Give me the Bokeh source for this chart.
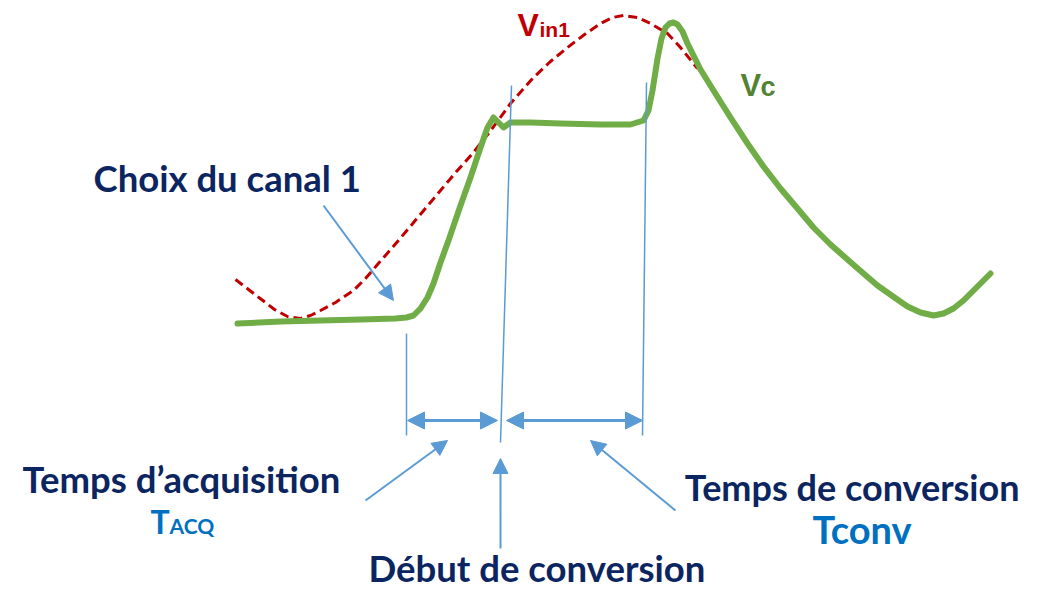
from bokeh.plotting import figure
from bokeh.models import Range1d, Arrow, NormalHead, ColumnDataSource
from bokeh.core.properties import value
from bokeh.embed import file_html
from bokeh.resources import INLINE

# --- data (diagram coordinates, y grows downward) ---
vin1_x = [235, 248, 261, 274, 287, 300, 310, 320, 335, 353, 365, 377, 392, 408, 424, 440, 456, 472, 488, 510, 533, 550, 567, 584, 600, 612, 623, 637, 650, 667, 680, 693, 697]
vin1_y = [279, 289, 299, 309, 316, 318, 315, 310, 302, 290, 278, 264, 247, 228, 209, 190, 171, 153, 133, 103, 77, 61, 47, 34, 23, 17, 15, 17, 23, 33, 47, 63, 68]

vc_x = [237, 280, 320, 360, 395, 406, 413, 420, 427, 433, 440, 448, 460, 470, 480, 487, 493, 498, 503, 510, 530, 560, 600, 630, 643, 648, 652, 657, 661, 665, 669, 673, 677, 682, 687, 700, 713, 730, 747, 763, 780, 797, 813, 830, 847, 863, 877, 894, 907, 920, 933, 943, 953, 963, 973, 982, 990]
vc_y = [323, 321, 320, 319, 318, 317, 315, 308, 297, 283, 262, 240, 205, 177, 147, 127, 117, 122, 127, 122, 122, 123, 124, 124, 120, 110, 90, 58, 38, 27, 23, 22, 24, 31, 43, 69, 90, 117, 143, 166, 188, 208, 227, 244, 259, 273, 285, 297, 306, 312, 315, 313, 308, 300, 290, 281, 273]

vlines_x0 = [406, 511, 646]
vlines_y0 = [333, 85, 82]
vlines_x1 = [406, 500, 642]
vlines_y1 = [435, 442, 435]

span_x0 = [407, 506]
span_x1 = [497, 642]
span_y = [420, 420]

ptr_x0 = [323, 365, 500, 675]
ptr_y0 = [205, 500, 548, 510]
ptr_x1 = [393, 447, 500, 590]
ptr_y1 = [300, 440, 458, 440]

labels = ["Choix du canal 1", "Temps d\u2019acquisition", "Temps de conversion", "D\u00e9but de conversion"]
labels_x = [93, 22, 1019, 368]
labels_y = [191, 492, 500, 581]
labels_align = ["left", "left", "right", "left"]

NAVY = "#0b2561"
BLUE = "#5b9bd5"
TBLUE = "#0070c0"
RED = "#c00000"
GREEN = "#70ad47"
DGREEN = "#548235"
FONT = "Lato"
SHIFT = 0.38  # compensation of the renderer's baseline offset, in em


def put(x, y, txt, size, color, font=FONT, align="left"):
    ys = [yy - SHIFT * size for yy in y]
    p.text(x, ys, text=txt, text_font=value(font), text_font_style="bold",
           text_font_size=f"{size}px", text_color=color, text_baseline="alphabetic",
           text_align=align)


p = figure(width=1021, height=590, output_backend="svg", toolbar_location=None,
           x_range=Range1d(0, 1021), y_range=Range1d(590, 0), min_border=0)
p.axis.visible = False
p.grid.visible = False
p.outline_line_color = None
p.background_fill_color = "white"

p.line(vin1_x, vin1_y, line_color=RED, line_width=3, line_dash="9 5")
p.line(vc_x, vc_y, line_color=GREEN, line_width=6, line_join="round", line_cap="round")

p.segment(vlines_x0, vlines_y0, vlines_x1, vlines_y1, line_color=BLUE, line_width=1.5)

span_src = ColumnDataSource(dict(x0=span_x0, x1=span_x1, y=span_y))
p.add_layout(Arrow(source=span_src, x_start="x0", y_start="y", x_end="x1", y_end="y",
                   line_color=BLUE, line_width=3,
                   start=NormalHead(size=17, fill_color=BLUE, line_color=BLUE),
                   end=NormalHead(size=17, fill_color=BLUE, line_color=BLUE)))

ptr_src = ColumnDataSource(dict(x0=ptr_x0, y0=ptr_y0, x1=ptr_x1, y1=ptr_y1))
p.add_layout(Arrow(source=ptr_src, x_start="x0", y_start="y0", x_end="x1", y_end="y1",
                   line_color=BLUE, line_width=2,
                   end=NormalHead(size=15, fill_color=BLUE, line_color=BLUE)))

for i in range(len(labels)):
    put([labels_x[i]], [labels_y[i]], [labels[i]], 36.5 if i != 2 else 36, NAVY,
        align=labels_align[i])

# TACQ / Tconv
put([150], [533], ["T"], 32, TBLUE)
put([169], [533], ["ACQ"], 21, TBLUE)
put([812], [543], ["Tconv"], 38, TBLUE)

# Vin1 / Vc
put([517], [37], ["V"], 32, RED, font="Liberation Sans")
put([539], [37], ["in1"], 21, RED, font="Liberation Sans")
put([740], [97], ["V"], 31, DGREEN, font="Liberation Sans")
put([760], [97], ["c"], 27, DGREEN, font="Liberation Sans")

open("out.html", "w").write(file_html(p, INLINE))
